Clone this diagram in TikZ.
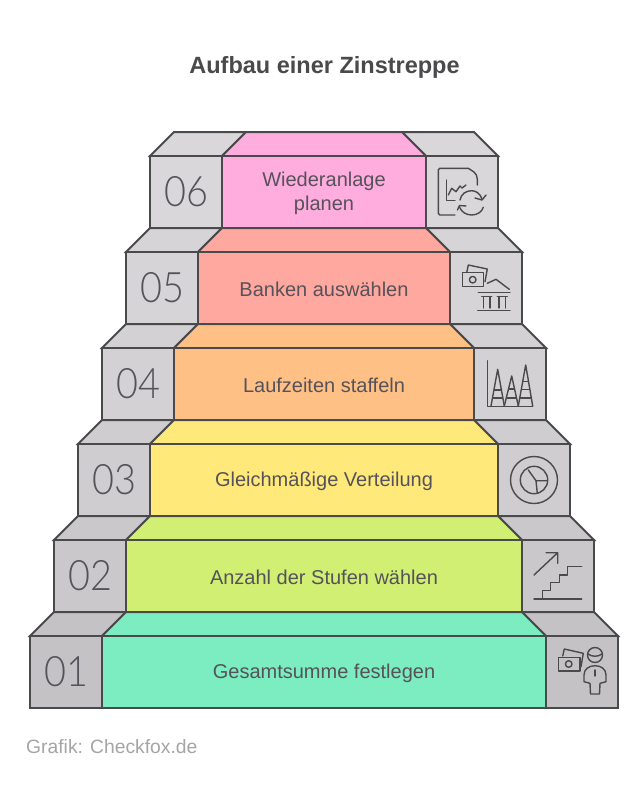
\documentclass[tikz,border=0pt]{standalone}
\usepackage{fontspec}
\setmainfont{Liberation Sans}
\newfontfamily\numfont{Lato Light}
\definecolor{ink}{HTML}{4A494C}
\definecolor{lab}{HTML}{55525A}
\definecolor{foot}{HTML}{A5A5A5}
\definecolor{gsix}{HTML}{D9D7DA}\definecolor{gfive}{HTML}{D6D4D7}\definecolor{gfour}{HTML}{D3D1D4}
\definecolor{gthree}{HTML}{CFCDD0}\definecolor{gtwo}{HTML}{CBC8CB}\definecolor{gone}{HTML}{C5C2C5}
\definecolor{csix}{HTML}{FFACDF}\definecolor{cfive}{HTML}{FFA89F}\definecolor{cfour}{HTML}{FFC085}
\definecolor{cthree}{HTML}{FFE97A}\definecolor{ctwo}{HTML}{D0EF73}\definecolor{cone}{HTML}{7BEDC0}
\tikzset{
  edge/.style={draw=ink,line width=2pt,line join=miter},
  icon/.style={draw=ink,line width=1.4pt,line join=round,line cap=round},
  lbl/.style={text=lab,font=\fontsize{20}{24}\selectfont,align=center,inner sep=0pt},
  num/.style={text=lab,font=\numfont\fontsize{42}{42}\selectfont,inner sep=0pt}
}
% #1 L, #2 y top of front, #3 grey, #4 colour, #5 number, #6 label
\newcommand{\stair}[6]{%
  \pgfmathsetmacro{\xa}{#1+72}\pgfmathsetmacro{\xb}{648-#1-72}\pgfmathsetmacro{\xr}{648-#1}
  \pgfmathsetmacro{\yb}{#2+72}\pgfmathsetmacro{\yt}{#2-24}
  \pgfmathsetmacro{\xla}{#1+24}\pgfmathsetmacro{\xaa}{\xa+24}\pgfmathsetmacro{\xbb}{\xb-24}\pgfmathsetmacro{\xra}{\xr-24}
  \filldraw[edge,fill=#3] (#1,#2) -- (\xla,\yt) -- (\xaa,\yt) -- (\xa,#2) -- cycle;
  \filldraw[edge,fill=#3] (\xb,#2) -- (\xbb,\yt) -- (\xra,\yt) -- (\xr,#2) -- cycle;
  \filldraw[edge,fill=#4] (\xa,#2) -- (\xaa,\yt) -- (\xbb,\yt) -- (\xb,#2) -- cycle;
  \filldraw[edge,fill=#3] (#1,#2) rectangle (\xa,\yb);
  \filldraw[edge,fill=#3] (\xb,#2) rectangle (\xr,\yb);
  \filldraw[edge,fill=#4] (\xa,#2) rectangle (\xb,\yb);
  \pgfmathsetmacro{\xn}{#1+36}\pgfmathsetmacro{\ym}{#2+36}\pgfmathsetmacro{\yl}{#2+37.5}
  \node[num] (n#5) at (\xn,\ym) {\scalebox{.9}[1]{#5}};
  \node[lbl] (t#5) at (324,\yl) {#6};
}
\begin{document}
\begin{tikzpicture}[x=1pt,y=-1pt]
\useasboundingbox (0,0) rectangle (642,806);
\fill[white] (0,0) rectangle (642,806);
\node[text=ink,font=\bfseries\fontsize{23.5}{28}\selectfont,inner sep=0pt] (title) at (324.5,67) {Aufbau einer Zinstreppe};
\stair{150}{156}{gsix}{csix}{06}{Wiederanlage\\planen}
\stair{126}{252}{gfive}{cfive}{05}{Banken auswählen}
\stair{102}{348}{gfour}{cfour}{04}{Laufzeiten staffeln}
\stair{78}{444}{gthree}{cthree}{03}{Gleichmäßige Verteilung}
\stair{54}{540}{gtwo}{ctwo}{02}{Anzahl der Stufen wählen}
\stair{30}{636}{gone}{cone}{01}{Gesamtsumme festlegen}
\node[text=foot,font=\fontsize{19.3}{23}\selectfont,anchor=west,inner sep=0pt] (src) at (26,747) {Grafik: Checkfox.de};
% icon 06
\draw[icon,rounded corners=1.5pt] (455,215) -- (438.3,215) -- (438.3,168.3) -- (468.3,168.3);
\draw[icon] (468.3,168.3) -- (474,172) .. controls (476,174) and (477.3,176) .. (477.3,179) -- (477.3,185);
\draw[icon] (446.7,180) -- (446.7,200.7) -- (455,200.7);
\draw[icon] (448.3,195) -- (451.7,188.3) -- (456,191.7) -- (460,186) -- (462,188) -- (466,185);
\draw[icon] (460,200) .. controls (461,194) and (466,190.7) .. (471.7,190.7) .. controls (476,190.7) and (480,193.5) .. (482,199);
\draw[icon] (475,198) -- (482,200) -- (486,195);
\draw[icon] (483.3,207.3) .. controls (482,212) and (477,215) .. (471.7,215) .. controls (466,215) and (461.5,212) .. (459.5,207);
\draw[icon] (457.5,210) -- (459.5,205.5) -- (466,206);
% icon 05
\draw[icon] (466.7,272.7) -- (468.3,265) -- (487.3,269) -- (485,281.7);
\draw[icon,fill=gfive] (462.3,272.7) rectangle (483.3,286.7);
\draw[icon] (472.7,279.7) circle[radius=3.3];
\draw[icon] (487.3,283.3) -- (496,279.3) -- (509.3,289.3);
\draw[icon] (478.3,292.3) -- (510,292.3);
\draw[icon] (481.7,296.7) -- (491.7,296.7) (483.5,296.7) -- (483.5,308) (490,296.7) -- (490,308);
\draw[icon] (497.3,296.7) -- (507.3,296.7) (499,296.7) -- (499,308) (505.5,296.7) -- (505.5,308);
\draw[icon] (477.7,310.7) -- (510,310.7);
% icon 04
\draw[icon] (487.3,360.7) -- (487.3,406.7) -- (532.7,406.7);
\foreach \ax/\ay/\bl/\br/\ya/\yb/\yc in {497.7/369.3/491/504.3/390/398/398,511.7/376/504.3/518.3/389/398/398,525.7/365/518.3/532.7/381.7/389.5/398}{
  \draw[icon] (\bl,406) -- (\ax,\ay) -- (\br,406);
  \begin{scope}
    \clip (\bl,406) -- (\ax,\ay) -- (\br,406) -- cycle;
    \draw[icon] (480,\ya) -- (540,\ya) (480,\yb) -- (540,\yb) (480,\yc) -- (540,\yc);
  \end{scope}
}
% icon 03
\draw[icon] (534,480) circle[radius=23.5] circle[radius=13.7];
\draw[icon] (528.3,470) -- (536,480.7) -- (547.3,480.7) (536,480.7) -- (537.3,493.3);
% icon 02
\draw[icon] (534,575) -- (557.7,552.7) (546,552.7) -- (557.7,552.7) -- (557.7,563.3);
\draw[icon] (542.7,599) -- (542.7,590.7) -- (550.7,590.7) -- (550.7,582.7) -- (559.3,582.7) -- (559.3,575) -- (567.3,575) -- (567.3,566.7) -- (581.7,566.7);
\draw[icon] (534,599) -- (581.7,599);
% icon 01
\draw[icon] (562.7,656) -- (564.3,649) -- (583.3,653.3) -- (581,666.7);
\draw[icon,fill=gone] (558.7,657.3) rectangle (580,671);
\draw[icon] (568.7,664) circle[radius=3.3];
\draw[icon] (595,655) circle[radius=7.5];
\draw[icon] (588,654) .. controls (592,657) and (598,657) .. (602,654);
\draw[icon] (590.5,694) -- (590,683.3) -- (584,681.7) -- (584,675) .. controls (584,669) and (589,665.7) .. (595,665.7) .. controls (601,665.7) and (606,669) .. (606,675) -- (606,681.7) -- (600,683.3) -- (599.5,694) -- cycle;
\draw[icon] (595,670) -- (595,676);
\end{tikzpicture}
\end{document}
